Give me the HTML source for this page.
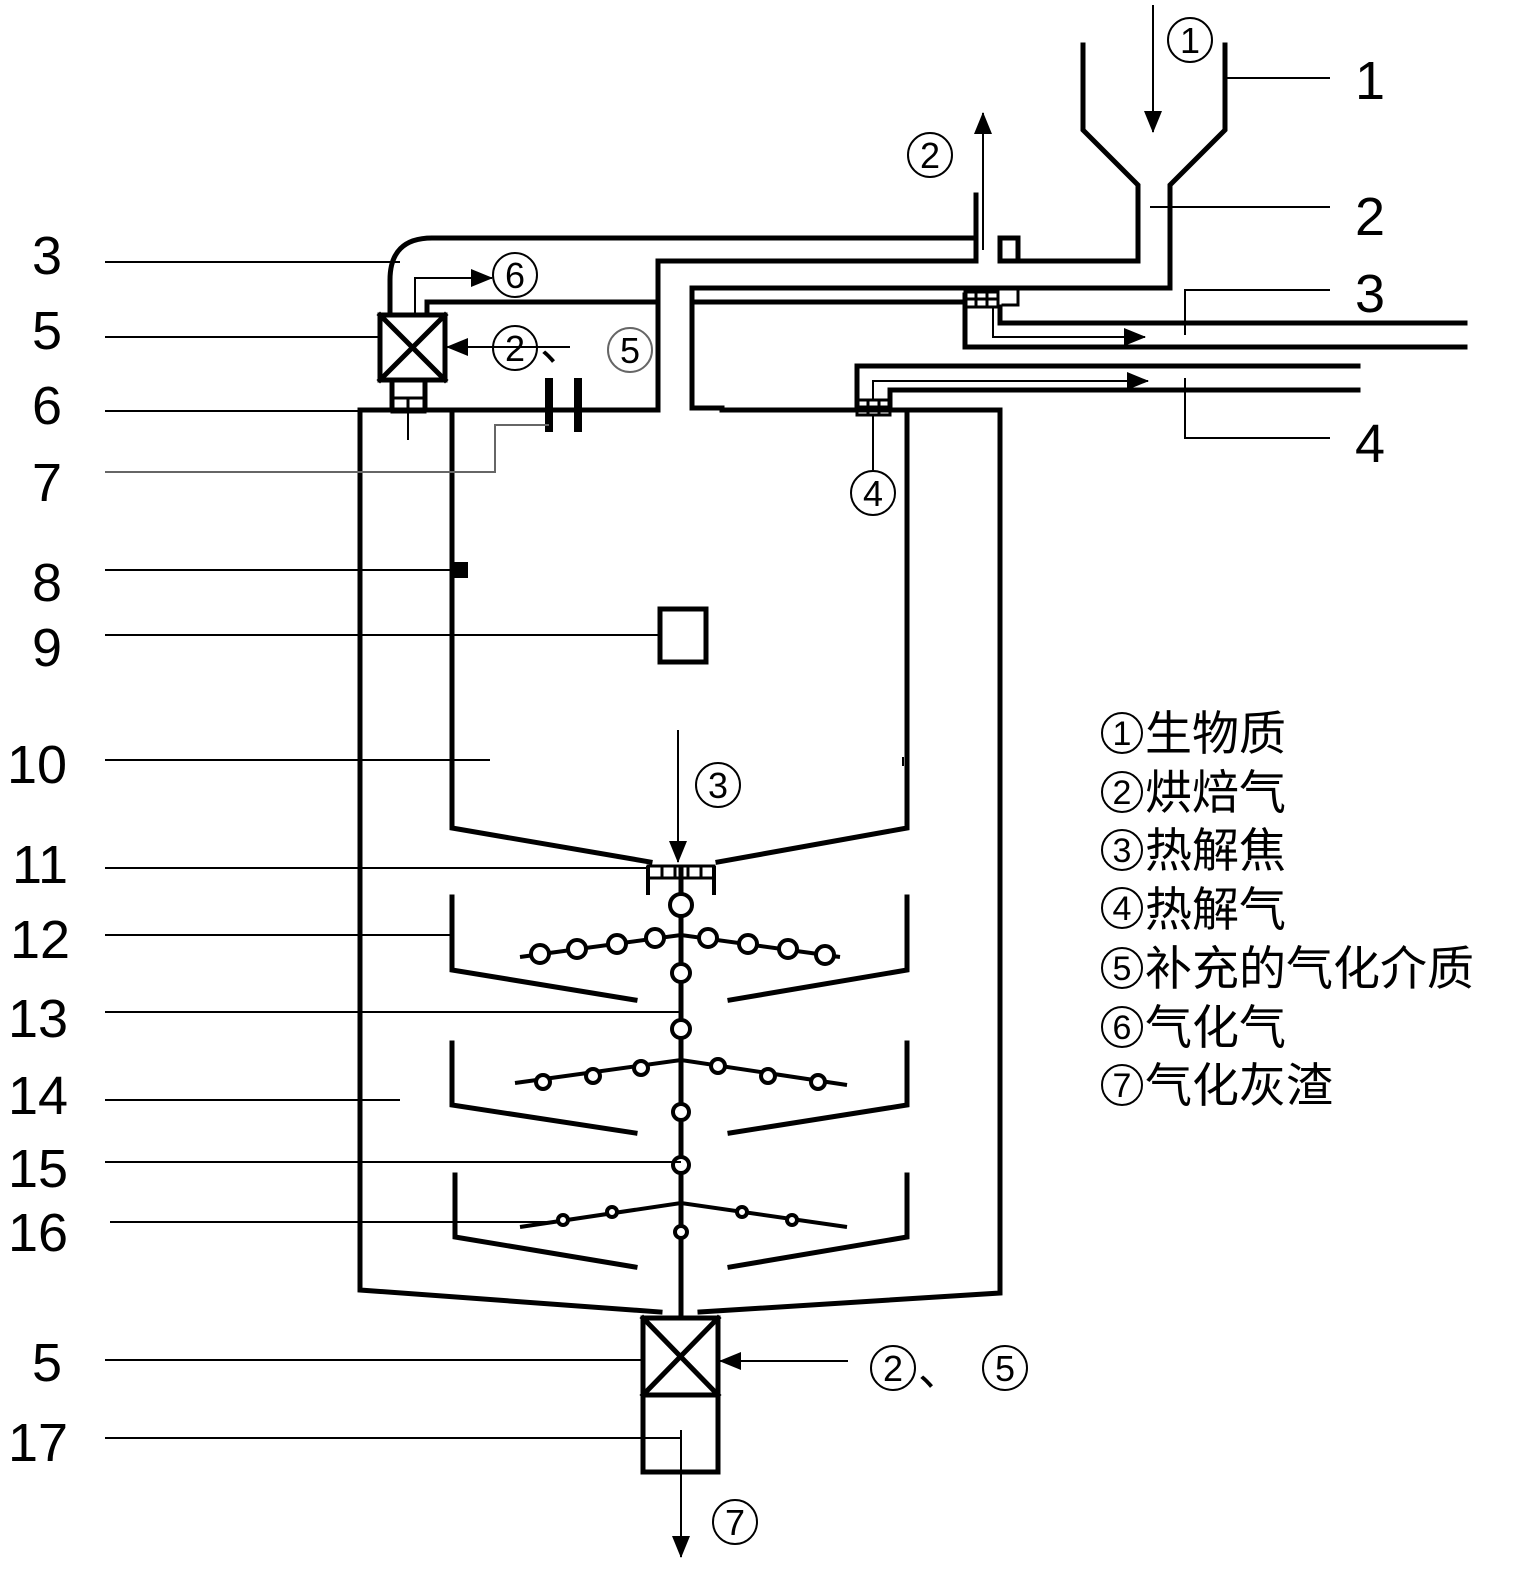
<!DOCTYPE html>
<html><head><meta charset="utf-8"><style>
html,body{margin:0;padding:0;background:#fff}
svg{display:block}
text{font-family:"Liberation Sans","Noto Sans CJK SC",sans-serif;fill:#000}
</style></head><body>
<svg width="1525" height="1595" viewBox="0 0 1525 1595" xmlns="http://www.w3.org/2000/svg">
<defs>
<marker id="ah" markerWidth="22" markerHeight="18" refX="21" refY="9" orient="auto" markerUnits="userSpaceOnUse"><path d="M0,0 L22,9 L0,18z" fill="#000"/></marker>
</defs>
<g fill="none" stroke="#000" stroke-width="5" stroke-linecap="square">
<polyline points="1083,45 1083,130 1138,185 1138,261 1000,261 1000,238"/>
<polyline points="1225,45 1225,130 1170,185 1170,288 692,288 692,408 722,408"/>
<polyline points="1000,238 1018,238 1018,261"/>
<path d="M976,195 L976,238 L432,238 Q390,238 390,280 L390,315"/>
<polyline points="976,195 976,261 658,261 658,410"/>
<polyline points="427,315 427,302 658,302"/>
<polyline points="692,302 965,302"/>
<polyline points="965,295 965,347 1465,347"/>
<polyline points="1000,307 1000,323 1465,323"/>
<polyline points="1003,288 1018,288 1018,305 1003,305" stroke-width="3"/>
<polyline points="857,405 857,366 1358,366"/>
<polyline points="890,405 890,390 1358,390"/>
<polyline points="658,410 360,410 360,1290 660,1312"/>
<polyline points="722,410 1000,410 1000,1293 700,1312"/>
<polyline points="452,410 452,828 650,862"/>
<polyline points="907,410 907,828 718,862"/>
<polyline points="452,897 452,970 635,1000"/>
<polyline points="907,897 907,970 730,1000"/>
<polyline points="452,1043 452,1105 635,1133"/>
<polyline points="907,1043 907,1105 730,1133"/>
<polyline points="455,1175 455,1237 635,1267"/>
<polyline points="907,1175 907,1237 730,1267"/>
<line x1="681" y1="870" x2="681" y2="1318"/>
<rect x="380" y="315" width="65" height="65"/>
<line x1="380" y1="315" x2="445" y2="380"/><line x1="445" y1="315" x2="380" y2="380"/>
<rect x="392" y="380" width="33" height="30"/>
<rect x="643" y="1318" width="75" height="77"/>
<line x1="643" y1="1318" x2="718" y2="1395"/><line x1="718" y1="1318" x2="643" y2="1395"/>
<rect x="643" y="1395" width="75" height="77"/>
<rect x="660" y="609" width="46" height="53"/>
</g>
<g fill="none" stroke="#000" stroke-width="8">
<line x1="549" y1="378" x2="549" y2="432"/><line x1="578" y1="378" x2="578" y2="432"/>
</g>
<rect x="452" y="562" width="16" height="16" fill="#000"/>
<g fill="none" stroke="#000" stroke-width="3">
<rect x="965" y="292" width="33" height="15"/><line x1="976" y1="292" x2="976" y2="307"/><line x1="987" y1="292" x2="987" y2="307"/><line x1="965" y1="299" x2="998" y2="299"/>
<rect x="857" y="400" width="33" height="15"/><line x1="868" y1="400" x2="868" y2="415"/><line x1="879" y1="400" x2="879" y2="415"/><line x1="857" y1="407" x2="890" y2="407"/>
<rect x="392" y="398" width="33" height="14"/><line x1="408" y1="398" x2="408" y2="412"/>
<path d="M648,866 L714,866 L714,878 L648,878 Z"/><line x1="662" y1="866" x2="662" y2="878"/><line x1="675" y1="866" x2="675" y2="878"/><line x1="688" y1="866" x2="688" y2="878"/><line x1="701" y1="866" x2="701" y2="878"/>
<line x1="648" y1="866" x2="648" y2="895" stroke-width="4"/><line x1="714" y1="866" x2="714" y2="895" stroke-width="4"/>
</g>
<g stroke="#000" stroke-width="2" fill="none">
<line x1="1153" y1="5" x2="1153" y2="132" marker-end="url(#ah)"/>
<line x1="983" y1="250" x2="983" y2="113" marker-end="url(#ah)"/>
<polyline points="993,307 993,337 1145,337" marker-end="url(#ah)"/>
<polyline points="873,400 873,381 1148,381" marker-end="url(#ah)"/>
<polyline points="415,315 415,278 492,278" marker-end="url(#ah)"/>
<line x1="570" y1="347" x2="447" y2="347" marker-end="url(#ah)"/>
<line x1="678" y1="730" x2="678" y2="862" marker-end="url(#ah)"/>
<line x1="848" y1="1361" x2="720" y2="1361" marker-end="url(#ah)"/>
<line x1="681" y1="1430" x2="681" y2="1557" marker-end="url(#ah)"/>
<line x1="408" y1="412" x2="408" y2="440"/>
<line x1="873" y1="415" x2="873" y2="470"/>
</g>
<g stroke="#000" stroke-width="4" fill="#fff">
<polyline fill="none" points="520,957 681,935 840,957"/>
<polyline fill="none" points="515,1083 681,1060 847,1085"/>
<polyline fill="none" points="520,1227 681,1203 847,1227"/>
<circle cx="540" cy="954" r="9"/><circle cx="577" cy="949" r="9"/><circle cx="617" cy="944" r="9"/><circle cx="655" cy="938" r="9"/>
<circle cx="708" cy="938" r="9"/><circle cx="748" cy="944" r="9"/><circle cx="788" cy="949" r="9"/><circle cx="825" cy="955" r="9"/>
<circle cx="543" cy="1082" r="7"/><circle cx="593" cy="1076" r="7"/><circle cx="641" cy="1068" r="7"/>
<circle cx="718" cy="1066" r="7"/><circle cx="768" cy="1076" r="7"/><circle cx="818" cy="1082" r="7"/>
<circle cx="563" cy="1220" r="5"/><circle cx="612" cy="1212" r="5"/><circle cx="742" cy="1212" r="5"/><circle cx="792" cy="1220" r="5"/>
<circle cx="681" cy="905" r="11"/><circle cx="681" cy="973" r="9"/><circle cx="681" cy="1029" r="9"/>
<circle cx="681" cy="1112" r="8"/><circle cx="681" cy="1165" r="8"/><circle cx="681" cy="1232" r="6"/>
</g>
<g stroke="#000" stroke-width="2" fill="none">
<line x1="1225" y1="78" x2="1330" y2="78"/>
<line x1="1150" y1="207" x2="1330" y2="207"/>
<polyline points="1330,290 1185,290 1185,335"/>
<polyline points="1330,438 1185,438 1185,378"/>
<line x1="105" y1="262" x2="400" y2="262"/>
<line x1="105" y1="337" x2="380" y2="337"/>
<line x1="105" y1="411" x2="392" y2="411"/>
<polyline points="105,472 495,472 495,425 549,425" stroke="#666"/>
<line x1="105" y1="570" x2="452" y2="570"/>
<line x1="105" y1="635" x2="660" y2="635"/>
<line x1="105" y1="760" x2="490" y2="760"/>
<line x1="105" y1="868" x2="650" y2="868"/>
<line x1="105" y1="935" x2="452" y2="935"/>
<line x1="105" y1="1012" x2="681" y2="1012"/>
<line x1="105" y1="1100" x2="400" y2="1100"/>
<line x1="105" y1="1162" x2="681" y2="1162"/>
<line x1="110" y1="1222" x2="560" y2="1222"/>
<line x1="105" y1="1360" x2="643" y2="1360"/>
<line x1="105" y1="1438" x2="681" y2="1438"/>
<line x1="903" y1="757" x2="903" y2="766"/>
</g>
<g font-size="54" text-anchor="middle">
<text x="1370" y="99">1</text><text x="1370" y="235">2</text><text x="1370" y="312">3</text><text x="1370" y="462">4</text>
<text x="47" y="274">3</text><text x="47" y="349">5</text><text x="47" y="424">6</text><text x="47" y="501">7</text>
<text x="47" y="601">8</text><text x="47" y="666">9</text><text x="37" y="783">10</text><text x="40" y="883">11</text>
<text x="40" y="958">12</text><text x="38" y="1037">13</text><text x="38" y="1114">14</text><text x="38" y="1187">15</text>
<text x="38" y="1251">16</text><text x="47" y="1381">5</text><text x="38" y="1461">17</text>
</g>
<!-- circled numbers drawn -->
<g fill="none" stroke="#000" stroke-width="2">
<circle cx="1190" cy="40" r="22"/><circle cx="930" cy="155" r="22"/><circle cx="515" cy="275" r="22"/>
<circle cx="515" cy="348" r="22"/><circle cx="630" cy="350" r="22" stroke="#666"/><circle cx="873" cy="493" r="22"/>
<circle cx="718" cy="785" r="22"/><circle cx="893" cy="1368" r="22"/><circle cx="1005" cy="1368" r="22"/><circle cx="735" cy="1522" r="22"/>
<circle cx="1122" cy="733" r="20"/><circle cx="1122" cy="792" r="20"/><circle cx="1122" cy="850" r="20"/><circle cx="1122" cy="908" r="20"/>
<circle cx="1122" cy="968" r="20"/><circle cx="1122" cy="1027" r="20"/><circle cx="1122" cy="1085" r="20"/>
</g>
<g font-size="36" text-anchor="middle">
<text x="1190" y="53">1</text><text x="930" y="168">2</text><text x="515" y="288">6</text>
<text x="515" y="361">2</text><text x="630" y="363" fill="#444">5</text><text x="873" y="506">4</text>
<text x="718" y="798">3</text><text x="893" y="1381">2</text><text x="1005" y="1381">5</text><text x="735" y="1535">7</text>
</g>
<g font-size="34" text-anchor="middle">
<text x="1122" y="745">1</text><text x="1122" y="804">2</text><text x="1122" y="862">3</text><text x="1122" y="920">4</text>
<text x="1122" y="980">5</text><text x="1122" y="1039">6</text><text x="1122" y="1097">7</text>
</g>
<g font-size="44">
<text x="540" y="360">、</text>
<text x="918" y="1385">、</text>
</g>
<g font-size="47">
<text x="1145" y="750">生物质</text>
<text x="1145" y="809">烘焙气</text>
<text x="1145" y="867">热解焦</text>
<text x="1145" y="926">热解气</text>
<text x="1145" y="985">补充的气化介质</text>
<text x="1145" y="1044">气化气</text>
<text x="1145" y="1102">气化灰渣</text>
</g>
</svg>
</body></html>
